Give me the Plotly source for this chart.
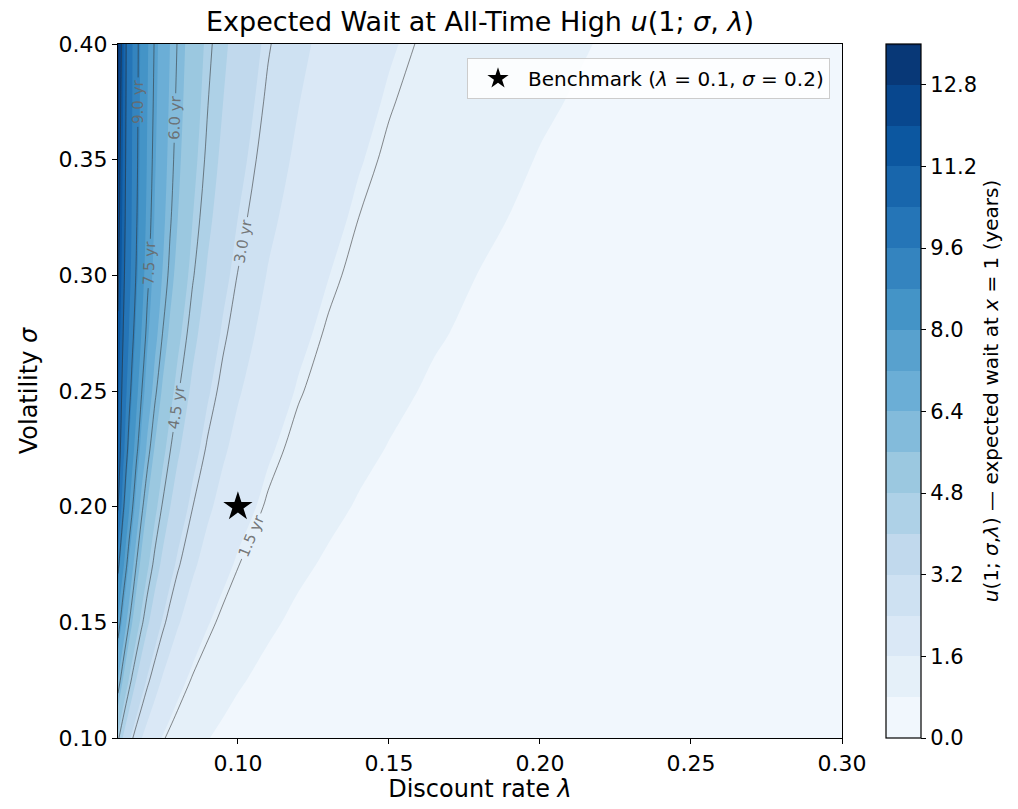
import plotly.graph_objects as go

# ---------------- data ----------------
# discount rate lambda (grid columns) and volatility sigma (grid rows)
LAMBDA = [0.0603, 0.061, 0.062, 0.063, 0.064, 0.065, 0.0665, 0.068, 0.07, 0.0725,
          0.075, 0.0775, 0.08, 0.085, 0.09, 0.095, 0.10, 0.11, 0.12, 0.13,
          0.14, 0.15, 0.165, 0.18, 0.20, 0.22, 0.25, 0.30]
SIGMA = [0.100, 0.125, 0.150, 0.175, 0.200, 0.225, 0.250,
         0.275, 0.300, 0.325, 0.350, 0.375, 0.400]

# expected wait u(1; sigma, lambda) in years, one row per sigma
U_S100 = [4.64, 4.33, 3.94, 3.60, 3.31, 3.05, 2.71, 2.43, 2.12, 1.81, 1.57, 1.38, 1.22, 0.99,
          0.82, 0.69, 0.59, 0.44, 0.34, 0.27, 0.22, 0.19, 0.15, 0.12, 0.09, 0.07, 0.05, 0.04]
U_S125 = [6.40, 6.03, 5.54, 5.11, 4.73, 4.39, 3.94, 3.56, 3.13, 2.70, 2.34, 2.05, 1.81, 1.45,
          1.20, 1.01, 0.86, 0.65, 0.50, 0.41, 0.33, 0.28, 0.22, 0.18, 0.14, 0.11, 0.08, 0.05]
U_S150 = [7.92, 7.50, 6.95, 6.45, 6.00, 5.61, 5.09, 4.64, 4.12, 3.59, 3.15, 2.79, 2.48, 2.00,
          1.64, 1.38, 1.17, 0.89, 0.69, 0.56, 0.46, 0.38, 0.30, 0.24, 0.19, 0.15, 0.11, 0.07]
U_S175 = [9.20, 8.71, 8.14, 7.62, 7.09, 6.58, 5.94, 5.45, 4.92, 4.34, 3.86, 3.44, 3.09, 2.53,
          2.10, 1.78, 1.52, 1.15, 0.90, 0.73, 0.60, 0.50, 0.40, 0.32, 0.25, 0.20, 0.15, 0.10]
U_S200 = [10.59, 9.95, 9.14, 8.54, 8.05, 7.59, 6.85, 6.18, 5.55, 4.96, 4.46, 4.02, 3.63, 3.01,
          2.53, 2.16, 1.86, 1.43, 1.13, 0.92, 0.76, 0.64, 0.50, 0.41, 0.32, 0.25, 0.19, 0.13]
U_S225 = [11.20, 10.58, 9.86, 9.26, 8.72, 8.26, 7.63, 7.01, 6.25, 5.55, 5.00, 4.54, 4.13, 3.45,
          2.92, 2.51, 2.18, 1.68, 1.34, 1.10, 0.92, 0.78, 0.62, 0.50, 0.39, 0.31, 0.23, 0.16]
U_S250 = [11.49, 10.87, 10.19, 9.67, 9.22, 8.78, 8.15, 7.57, 6.88, 6.13, 5.53, 5.02, 4.58, 3.85,
          3.28, 2.83, 2.47, 1.92, 1.55, 1.28, 1.07, 0.92, 0.73, 0.60, 0.47, 0.38, 0.28, 0.19]
U_S275 = [11.87, 11.22, 10.50, 9.98, 9.56, 9.18, 8.58, 8.01, 7.33, 6.62, 6.01, 5.48, 5.00, 4.22,
          3.61, 3.12, 2.73, 2.15, 1.74, 1.44, 1.22, 1.04, 0.85, 0.70, 0.55, 0.45, 0.34, 0.23]
U_S300 = [12.21, 11.53, 10.74, 10.19, 9.78, 9.42, 8.89, 8.33, 7.65, 6.96, 6.38, 5.86, 5.37, 4.56,
          3.91, 3.39, 2.98, 2.36, 1.93, 1.61, 1.36, 1.17, 0.95, 0.79, 0.63, 0.51, 0.39, 0.26]
U_S325 = [12.55, 11.77, 10.91, 10.31, 9.88, 9.53, 9.03, 8.50, 7.84, 7.15, 6.58, 6.08, 5.62, 4.81,
          4.17, 3.63, 3.20, 2.56, 2.10, 1.77, 1.50, 1.30, 1.06, 0.88, 0.71, 0.58, 0.44, 0.30]
U_S350 = [12.91, 12.00, 11.05, 10.39, 9.94, 9.58, 9.10, 8.59, 7.95, 7.27, 6.71, 6.22, 5.77, 5.00,
          4.37, 3.84, 3.40, 2.74, 2.27, 1.92, 1.64, 1.42, 1.17, 0.97, 0.78, 0.64, 0.49, 0.33]
U_S375 = [13.19, 12.24, 11.19, 10.45, 9.98, 9.61, 9.14, 8.64, 8.02, 7.36, 6.80, 6.32, 5.88, 5.14,
          4.52, 4.01, 3.57, 2.90, 2.42, 2.06, 1.77, 1.54, 1.27, 1.07, 0.86, 0.71, 0.55, 0.38]
U_S400 = [13.43, 12.48, 11.34, 10.50, 10.00, 9.63, 9.16, 8.68, 8.08, 7.43, 6.88, 6.40, 5.97, 5.24,
          4.65, 4.15, 3.72, 3.05, 2.56, 2.19, 1.90, 1.66, 1.38, 1.16, 0.94, 0.78, 0.60, 0.42]
U_GRID = [U_S100, U_S125, U_S150, U_S175, U_S200, U_S225, U_S250,
          U_S275, U_S300, U_S325, U_S350, U_S375, U_S400]

BENCH_LAMBDA = [0.1]
BENCH_SIGMA = [0.2]

FILL_START, FILL_END, FILL_STEP = 0.0, 13.6, 0.8
LINE_START, LINE_END, LINE_STEP = 1.5, 12.0, 1.5
CB_TICKS = [0.0, 1.6, 3.2, 4.8, 6.4, 8.0, 9.6, 11.2, 12.8]
X_TICKS = [0.10, 0.15, 0.20, 0.25, 0.30]
Y_TICKS = [0.10, 0.15, 0.20, 0.25, 0.30, 0.35, 0.40]

# ---------------- styling ----------------
BLUES = ["#f7fbff", "#deebf7", "#c6dbef", "#9ecae1", "#6baed6",
         "#4292c6", "#2171b5", "#08519c", "#08306b"]
colorscale = [[i / (len(BLUES) - 1), c] for i, c in enumerate(BLUES)]

FONT = "DejaVu Sans"
PLOT_L, PLOT_R, PLOT_T, PLOT_B = 118, 842, 44, 738
W, H = 1018, 809

fig = go.Figure()

fig.add_trace(go.Contour(
    x=LAMBDA, y=SIGMA, z=U_GRID,
    autocontour=False,
    zmin=FILL_START, zmax=FILL_END + 1e-7,
    contours=dict(start=FILL_START, end=FILL_END, size=FILL_STEP, coloring="fill",
                  showlines=False),
    line=dict(width=0, smoothing=1.0),
    colorscale=colorscale,
    showscale=True,
    hoverinfo="skip",
    showlegend=False,
    colorbar=dict(
        x=(886 - PLOT_L) / (PLOT_R - PLOT_L), xanchor="left", xref="paper", xpad=0,
        y=0.5, yanchor="middle", len=1.0, lenmode="fraction", ypad=0,
        thickness=35, outlinecolor="black", outlinewidth=1.2,
        tickmode="array", tickvals=CB_TICKS, tickformat=".1f",
        ticks="outside", ticklen=5, tickwidth=1.2, tickcolor="black",
        tickfont=dict(family=FONT, size=21, color="black"),
        title=dict(text="<i>u</i>(1; <i>σ</i>,<i>λ</i>) — expected wait at <i>x</i> = 1 (years)",
                   side="right", font=dict(family=FONT, size=20, color="black")),
    ),
))

fig.add_trace(go.Contour(
    x=LAMBDA, y=SIGMA, z=U_GRID,
    autocontour=False,
    contours=dict(start=LINE_START, end=LINE_END, size=LINE_STEP, coloring="none",
                  showlabels=True, labelformat="$.1f",
                  labelfont=dict(family=FONT, size=15, color="rgba(105,105,105,0.9)")),
    line=dict(width=1.0, color="rgba(45,45,45,0.55)", smoothing=1.0),
    showscale=False,
    hoverinfo="skip",
    showlegend=False,
))

fig.add_trace(go.Scatter(
    x=BENCH_LAMBDA, y=BENCH_SIGMA, mode="markers",
    marker=dict(symbol="star", size=22, color="black", line=dict(width=0)),
    name="Benchmark (<i>λ</i> = 0.1, <i>σ</i> = 0.2)",
    showlegend=True,
))

axis_common = dict(
    showline=True, linecolor="black", linewidth=1.2, mirror=True,
    ticks="outside", ticklen=5, tickwidth=1.2, tickcolor="black",
    tickfont=dict(family=FONT, size=22, color="black"),
    showgrid=False, zeroline=False,
)

fig.update_layout(
    width=W, height=H,
    margin=dict(l=PLOT_L, r=W - PLOT_R, t=PLOT_T, b=H - PLOT_B, autoexpand=False),
    paper_bgcolor="white", plot_bgcolor="white",
    font=dict(family=FONT, color="black"),
    title=dict(text="Expected Wait at All-Time High <i>u</i>(1; <i>σ</i>, <i>λ</i>)",
               x=0.5, xref="paper", xanchor="center",
               y=1 - 22 / H, yref="container", yanchor="middle",
               font=dict(family=FONT, size=27, color="black")),
    xaxis=dict(range=[LAMBDA[0], LAMBDA[-1]], tickmode="array", tickvals=X_TICKS,
               tickformat=".2f",
               title=dict(text="Discount rate <i>λ</i>", font=dict(family=FONT, size=24),
                          standoff=4),
               **axis_common),
    yaxis=dict(range=[SIGMA[0], SIGMA[-1]], tickmode="array", tickvals=Y_TICKS,
               tickformat=".2f",
               title=dict(text="Volatility <i>σ</i>", font=dict(family=FONT, size=24),
                          standoff=14),
               **axis_common),
    legend=dict(x=(830 - PLOT_L) / (PLOT_R - PLOT_L), y=(PLOT_B - 58) / (PLOT_B - PLOT_T),
                xanchor="right", yanchor="top", itemwidth=50,
                bgcolor="rgba(255,255,255,0.85)", bordercolor="#cccccc", borderwidth=1,
                font=dict(family=FONT, size=20, color="black")),
)

config = {
    "displayModeBar": False,
    "locale": "yr",
    "locales": {"yr": {"dictionary": {}, "format": {"currency": ["", " yr"]}}},
}

fig.write_html("out.html", config=config,
               post_script="document.body.style.margin='0px';")
